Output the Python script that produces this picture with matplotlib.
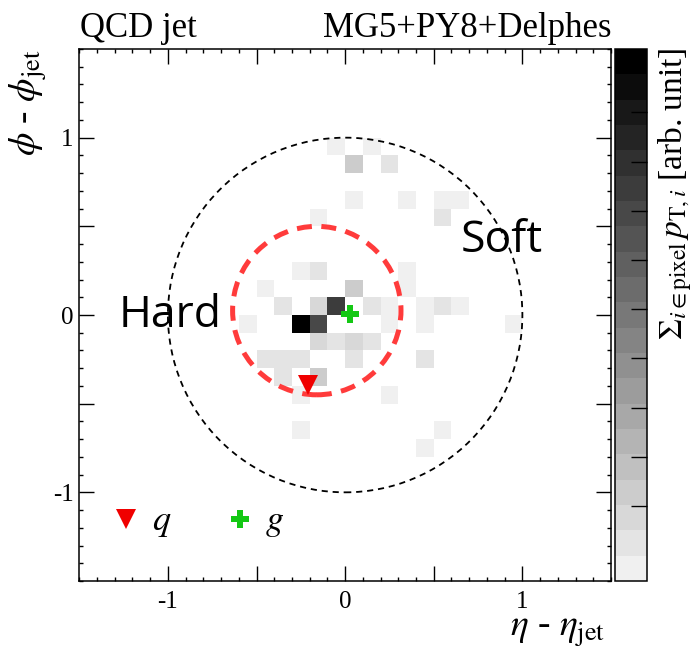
import numpy as np
import matplotlib.pyplot as plt
from matplotlib.colors import ListedColormap, Normalize
from matplotlib.patches import Circle
from matplotlib.ticker import MultipleLocator, FixedLocator

plt.rcParams['mathtext.fontset'] = 'stix'
plt.rcParams['font.family'] = ['Liberation Serif', 'DejaVu Serif']

# jet image: pixel centres in (eta, phi) and summed pT (fraction of the hottest pixel)
eta_pix = [-0.25, -0.05, -0.15, 0.05, -0.15, 0.05, -0.15, -0.15, 0.05, 0.55,
           -0.15, 0.45, 0.55, -0.35, 0.25, 0.15, 0.15, -0.45, -0.35, -0.25,
           0.05, -0.05, 0.15, 0.05, -0.15, 0.35, 0.55, 0.65, -0.25, 0.35,
           -0.45, 0.35, 0.25, 0.45, 0.65, -0.55, 0.25, 0.45, 0.95, -0.05,
           -0.35, -0.25, 0.25, -0.25, 0.55, 0.45]
phi_pix = [-0.05, 0.05, -0.05, 0.85, -0.35, 0.15, 0.05, -0.15, -0.15, 0.55,
           0.25, -0.25, 0.05, 0.05, 0.85, 0.05, -0.15, -0.25, -0.25, -0.25,
           -0.25, 0.95, 0.95, 0.65, 0.55, 0.65, 0.65, 0.65, 0.25, 0.25,
           0.15, 0.15, 0.05, 0.05, 0.05, -0.05, -0.05, -0.05, -0.05, -0.15,
           -0.35, -0.45, -0.45, -0.65, -0.65, -0.75]
pt_pix = [1.00, 0.73, 0.68, 0.16, 0.17, 0.15, 0.13, 0.11, 0.12, 0.07,
          0.07, 0.07, 0.09, 0.06, 0.06, 0.06, 0.05, 0.06, 0.06, 0.06,
          0.06, 0.03, 0.03, 0.03, 0.03, 0.03, 0.03, 0.03, 0.03, 0.03,
          0.03, 0.03, 0.03, 0.03, 0.03, 0.03, 0.03, 0.03, 0.03, 0.05,
          0.05, 0.03, 0.03, 0.03, 0.03, 0.03]

# parton directions
q_eta, q_phi = -0.21, -0.395
g_eta, g_phi = 0.03, 0.005

# hard (red) and soft (black) cones
hard_eta, hard_phi, hard_r = -0.16, 0.025, 0.475
soft_r = 1.0

W, H = 693, 648
fig = plt.figure(figsize=(W / 100, H / 100), dpi=100)
ax = fig.add_axes([79.3 / W, 1 - 581 / H, 531.7 / W, 532 / H])
cax = fig.add_axes([615 / W, 1 - 581 / H, 32 / W, 532 / H])

edges = np.linspace(-1.5, 1.5, 31)
hist, xe, ye = np.histogram2d(eta_pix, phi_pix, bins=[edges, edges], weights=pt_pix)
hist = np.ma.masked_equal(hist.T, 0)

nlev = 21
greys = [str(0.94 * (1 - i / (nlev - 1))) for i in range(nlev)]
cmap = ListedColormap(greys)
vmax = 1.02
mesh = ax.pcolormesh(xe, ye, hist, cmap=cmap, norm=Normalize(0, vmax))

ax.add_patch(Circle((0, 0), soft_r, fill=False, color='black', lw=1.3,
                    ls=(0, (3.4, 2.7))))
ax.add_patch(Circle((hard_eta, hard_phi), hard_r, fill=False, color='#ff3b3b', lw=3.6,
                    ls=(0, (3.0, 1.9))))

ax.plot(q_eta, q_phi, 'v', color='#f00000', ms=14, mew=0)
ax.plot(g_eta, g_phi, 'P', color='#14c814', ms=13, mew=0)

# legend by hand, like the original
ax.plot(-1.234, -1.15, 'v', color='#f00000', ms=14, mew=0)
ax.text(-1.09, -1.215, '$q$', fontsize=26)
ax.plot(-0.594, -1.15, 'P', color='#14c814', ms=13, mew=0)
ax.text(-0.45, -1.215, '$g$', fontsize=26)

ax.text(-1.28, -0.066, 'Hard', fontfamily='Open Sans', fontsize=32)
ax.text(0.652, 0.358, 'Soft', fontfamily='Open Sans', fontsize=32)

ax.set_xlim(-1.5, 1.5)
ax.set_ylim(-1.5, 1.5)
for axis in (ax.xaxis, ax.yaxis):
    axis.set_major_locator(FixedLocator([-1, -0.5, 0, 0.5, 1]))
    axis.set_minor_locator(MultipleLocator(0.1))
    axis.set_major_formatter(lambda v, p: '' if abs(v - round(v)) > 1e-6 else '%d' % round(v))
ax.tick_params(which='both', direction='in', top=True, right=True, width=1.0,
               labelsize=18)
ax.tick_params(which='minor', length=3.0)
ax.tick_params(axis='x', pad=7)
ax.tick_params(axis='y', pad=4)
for axis in (ax.xaxis, ax.yaxis):
    for t in axis.get_major_ticks():
        sz = 11 if abs(t.get_loc() - round(t.get_loc())) < 1e-6 else 5.5
        t.tick1line.set_markersize(sz)
        t.tick2line.set_markersize(sz)
for s in ax.spines.values():
    s.set_linewidth(1.1)

cb = fig.colorbar(mesh, cax=cax)
cb.outline.set_linewidth(1.1)
cax.yaxis.set_ticks_position('right')
cax.set_yticks(vmax * (0.141 + 0.0925 * np.arange(9)))
cax.tick_params(direction='in', length=11.5, width=1.0, labelright=False)

fig.text(80 / W, 1 - 37 / H, 'QCD jet', fontsize=25, ha='left', va='baseline')
fig.text(611 / W, 1 - 37 / H, 'MG5+PY8+Delphes', fontsize=25, ha='right', va='baseline')
fig.text(605 / W, 1 - 636 / H, r'$\eta$ - $\eta_{\rm jet}$', fontsize=27,
         ha='right', va='baseline')
fig.text(28 / W, 1 - 49 / H, r'$\phi$ - $\phi_{\rm jet}$', fontsize=27,
         rotation=90, ha='center', va='top')
fig.text(675 / W, 1 - 48 / H, r'$\Sigma_{i\in{\rm pixel}}\,p_{{\rm T},i}$ [arb. unit]',
         fontsize=24, rotation=90, ha='center', va='top')

fig.savefig('out.png', dpi=100)
